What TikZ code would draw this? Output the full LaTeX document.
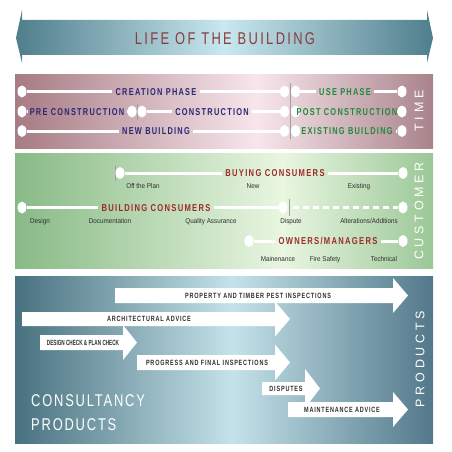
\documentclass[tikz,border=0pt]{standalone}
\usepackage{fontspec}
\usepackage{graphicx}
\usepackage{tikz}
\usetikzlibrary{shapes.geometric}
\usetikzlibrary{positioning}
\usetikzlibrary{calc}

\setmainfont{Liberation Sans}
\newfontfamily\titlefont[LetterSpace=18]{Liberation Sans}
\newfontfamily\sidefont[LetterSpace=30]{Liberation Sans}
\newfontfamily\bigfont[LetterSpace=14]{Liberation Sans}
\newfontfamily\tagfont[LetterSpace=17]{Liberation Sans}
\newfontfamily\arrfont[LetterSpace=15]{Liberation Sans}
\newfontfamily\smallfont{Liberation Sans}

\definecolor{navy}{HTML}{2A2876}
\definecolor{leaf}{HTML}{1E8A3C}
\definecolor{brick}{HTML}{9E2A2B}
\definecolor{rust}{HTML}{8C3B3D}
\definecolor{ink}{HTML}{2E2E2E}
\definecolor{pinkedge}{HTML}{A77B83}
\definecolor{pinklight}{HTML}{F8E6EC}
\definecolor{pinkend}{HTML}{A9838B}
\definecolor{greenedge}{HTML}{88BA86}
\definecolor{greenlight}{HTML}{E9F6E1}
\definecolor{greenend}{HTML}{9BC797}
\definecolor{blueedge}{HTML}{48717F}
\definecolor{bluelight}{HTML}{C4E2E9}
\definecolor{blueend}{HTML}{52788A}
\definecolor{tealedge}{HTML}{4F7E8C}
\definecolor{teallight}{HTML}{C9E8EF}

\pgfdeclarehorizontalshading{bannerfade}{100bp}{color(0bp)=(tealedge); color(25bp)=(tealedge); color(50bp)=(teallight); color(75bp)=(tealedge); color(100bp)=(tealedge)}
\pgfdeclarehorizontalshading{pinkfade}{100bp}{color(0bp)=(pinkedge); color(25bp)=(pinkedge); color(54bp)=(pinklight); color(75bp)=(pinkend); color(100bp)=(pinkend)}
\pgfdeclarehorizontalshading{greenfade}{100bp}{color(0bp)=(greenedge); color(25bp)=(greenedge); color(57bp)=(greenlight); color(75bp)=(greenend); color(100bp)=(greenend)}
\pgfdeclarehorizontalshading{bluefade}{100bp}{color(0bp)=(blueedge); color(25bp)=(blueedge); color(51bp)=(bluelight); color(75bp)=(blueend); color(100bp)=(blueend)}

\newcommand{\narrow}[2][0.8]{\scalebox{#1}[1]{#2}}
% white block arrow: x start, head base, tip, y centre, shaft half height, head half height
\newcommand{\blockarrow}[6]{%
  \fill[white] (#1,#4-#5) -- (#2,#4-#5) -- (#2,#4-#6) -- (#3,#4) -- (#2,#4+#6) -- (#2,#4+#5) -- (#1,#4+#5) -- cycle;}

\tikzset{
  bar/.style={draw=white, line width=3pt},
  knob/.style={ellipse, fill=white, minimum width=9pt, minimum height=12pt, inner sep=0pt},
  divider/.style={draw=gray!75, line width=0.6pt},
  tag/.style={font=\tagfont\bfseries\fontsize{10}{10}\selectfont, inner xsep=3pt, inner ysep=0pt, text height=7.2pt, text depth=0pt},
  sub/.style={font=\smallfont\fontsize{7}{7}\selectfont, text=ink, inner sep=0pt, anchor=base},
  side/.style={font=\sidefont\fontsize{12.5}{12.5}\selectfont, text=white, rotate=90, inner sep=0pt},
  arrtext/.style={font=\arrfont\bfseries\fontsize{7.6}{7.6}\selectfont, text=ink, inner sep=0pt, text height=5.4pt, text depth=0pt},
}

\begin{document}
\begin{tikzpicture}[x=1pt,y=-1pt]

\fill[white] (0,0) rectangle (452,452);
\useasboundingbox (0,0) rectangle (452,452);

% banner
\shade[shading=bannerfade] (16,38) -- (22,10) -- (22,20) -- (427,20) -- (427,10) -- (433,38)
  -- (427,63) -- (427,55) -- (22,55) -- (22,63) -- cycle;
\node[font=\titlefont\fontsize{17}{17}\selectfont, text=rust, inner sep=0pt, text height=12.2pt, text depth=0pt] (life) at (225,38.5) {\narrow[0.76]{LIFE OF THE BUILDING}};

% panels
\shade[shading=pinkfade] (15,74) rectangle (433,148);
\shade[shading=greenfade] (15,153) rectangle (433,268);
\shade[shading=bluefade] (15,276) rectangle (433,443);

% time panel
\node[side] (time) at (419,111) {TIME};
\draw[divider] (137,104) -- (137,120);
\draw[divider] (290,83) -- (290,139);

\node[knob] (c1) at (22,91.5) {};
\node[tag, text=navy] (creation) at (156,91.5) {\narrow[0.74]{CREATION PHASE}};
\node[knob] (c2) at (284.5,91.5) {};
\node[knob] (u1) at (295.5,91.5) {};
\node[tag, text=leaf] (use) at (345,91.5) {\narrow[0.74]{USE PHASE}};
\node[knob] (u2) at (402,91.5) {};
\draw[bar] (c1) -- (creation) (creation) -- (c2) (u1) -- (use) (use) -- (u2);

\node[knob] (p1) at (22,111.5) {};
\node[tag, text=navy] (pre) at (77,111.5) {\narrow[0.74]{PRE CONSTRUCTION}};
\node[knob] (p2) at (132,111.5) {};
\node[knob] (k1) at (142,111.5) {};
\node[tag, text=navy] (construction) at (212,111.5) {\narrow[0.74]{CONSTRUCTION}};
\node[knob] (k2) at (284.5,111.5) {};
\node[knob] (o1) at (295.5,111.5) {};
\node[tag, text=leaf] (post) at (347,111.5) {\narrow[0.74]{POST CONSTRUCTION}};
\node[knob] (o2) at (402,111.5) {};
\draw[bar] (p1) -- (pre) (pre) -- (p2) (k1) -- (construction) (construction) -- (k2)
  (o1) -- (post) (post) -- (o2);

\node[knob] (n1) at (22,131) {};
\node[tag, text=navy] (new) at (156,131) {\narrow[0.74]{NEW BUILDING}};
\node[knob] (n2) at (284.5,131) {};
\node[knob] (e1) at (295.5,131) {};
\node[tag, text=leaf] (existing) at (347,131) {\narrow[0.74]{EXISTING BUILDING}};
\node[knob] (e2) at (402,131) {};
\draw[bar] (n1) -- (new) (new) -- (n2) (e1) -- (existing) (existing) -- (e2);

% customer panel
\node[side] (customer) at (419,211) {CUSTOMER};
\draw[divider] (115,165) -- (115,181);
\draw[divider] (289,199) -- (289,216);

\node[knob] (b1) at (120,173) {};
\node[tag, text=brick] (buying) at (275,173) {\narrow[0.76]{BUYING CONSUMERS}};
\node[knob] (b2) at (403,173) {};
\draw[bar] (b1) -- (buying) (buying) -- (b2);
\node[sub] (offplan) at (143,188) {\narrow[0.9]{Off the Plan}};
\node[sub] (newbuy) at (253,188) {\narrow[0.9]{New}};
\node[sub] (existbuy) at (359,188) {\narrow[0.9]{Existing}};

\node[knob] (d1) at (22,207.5) {};
\node[tag, text=brick] (building) at (156,207.5) {\narrow[0.76]{BUILDING CONSUMERS}};
\node[knob] (d2) at (283,207.5) {};
\coordinate (dstart) at (293,207.5);
\node[knob] (d3) at (403,207.5) {};
\draw[bar] (d1) -- (building) (building) -- (d2);
\draw[bar, dash pattern=on 6pt off 4pt] (dstart) -- (d3);
\node[sub] (design) at (40,223) {\narrow[0.9]{Design}};
\node[sub] (docs) at (110,223) {\narrow[0.9]{Documentation}};
\node[sub] (quality) at (211,223) {\narrow[0.9]{Quality Assurance}};
\node[sub] (dispute) at (291,223) {\narrow[0.9]{Dispute}};
\node[sub] (alter) at (369,223) {\narrow[0.9]{Alterations/Additions}};

\node[knob] (m1) at (249,241) {};
\node[tag, text=brick] (owners) at (328,241) {\narrow[0.76]{OWNERS/MANAGERS}};
\node[knob] (m2) at (403,241) {};
\draw[bar] (m1) -- (owners) (owners) -- (m2);
\node[sub] (maint) at (278,261.5) {\narrow[0.9]{Mainenance}};
\node[sub] (fire) at (325,261.5) {\narrow[0.9]{Fire Safety}};
\node[sub] (tech) at (384,261.5) {\narrow[0.9]{Technical}};

% products panel
\node[side] (products) at (420,359) {PRODUCTS};

\blockarrow{115}{393}{408}{295.5}{7.5}{17.5}
\blockarrow{22}{275}{290}{319}{7}{17.5}
\blockarrow{40}{123}{137}{342.5}{7.5}{17.5}
\blockarrow{137}{275}{290}{362.5}{7.5}{18}
\blockarrow{262}{305}{320}{388.5}{6.5}{19.5}
\blockarrow{288}{393}{408}{409.5}{7.5}{17.5}

\node[arrtext] (pest) at (258,295.5) {\narrow[0.72]{PROPERTY AND TIMBER PEST INSPECTIONS}};
\node[arrtext] (arch) at (149,319) {\narrow[0.72]{ARCHITECTURAL ADVICE}};
\node[arrtext, font=\smallfont\bfseries\fontsize{7.5}{7.5}\selectfont] (check) at (83,342.5) {\narrow[0.62]{DESIGN CHECK \& PLAN CHECK}};
\node[arrtext] (progress) at (207,362.5) {\narrow[0.72]{PROGRESS AND FINAL INSPECTIONS}};
\node[arrtext] (disputes) at (286,388.5) {\narrow[0.72]{DISPUTES}};
\node[arrtext] (advice) at (342,409.5) {\narrow[0.72]{MAINTENANCE ADVICE}};

\node[font=\bigfont\fontsize{17}{17}\selectfont, text=white, anchor=base west, inner sep=0pt] (consult) at (31,406) {\narrow[0.76]{CONSULTANCY}};
\node[font=\bigfont\fontsize{17}{17}\selectfont, text=white, anchor=base west, inner sep=0pt] (prod) at (31,430) {\narrow[0.76]{PRODUCTS}};

\end{tikzpicture}
\end{document}
